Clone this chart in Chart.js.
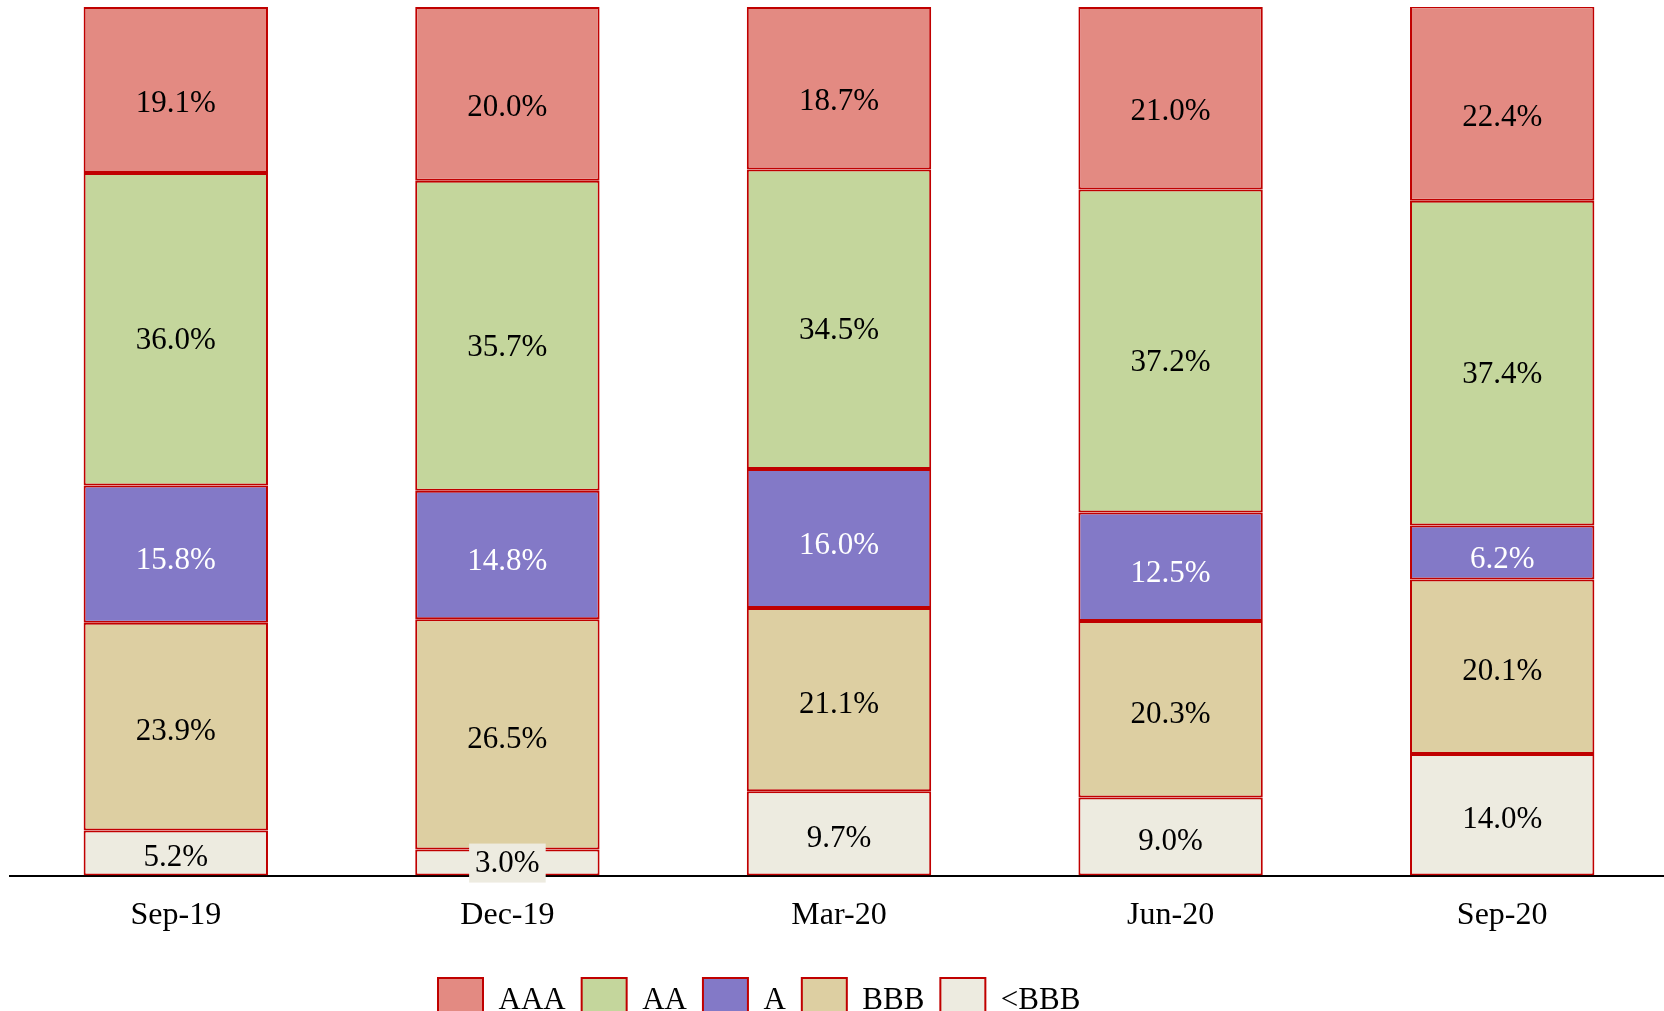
<!DOCTYPE html>
<html><head><meta charset="utf-8">
<script src="https://cdn.jsdelivr.net/npm/chart.js@4.4.0/dist/chart.umd.min.js"></script>
<style>html,body{margin:0;padding:0;background:#fff;overflow:hidden}
#wrap{position:relative;width:1668px;height:1011px}</style>
</head><body><div id="wrap"><canvas id="c"></canvas></div>
<script>
// ---- data ----
const categories = ['Sep-19', 'Dec-19', 'Mar-20', 'Jun-20', 'Sep-20'];
const aaaValues = [19.1, 20.0, 18.7, 21.0, 22.4];
const aaValues = [36.0, 35.7, 34.5, 37.2, 37.4];
const aValues = [15.8, 14.8, 16.0, 12.5, 6.2];
const bbbValues = [23.9, 26.5, 21.1, 20.3, 20.1];
const belowBbbValues = [5.2, 3.0, 9.7, 9.0, 14.0];
const seriesNames = ['<BBB', 'BBB', 'A', 'AA', 'AAA'];

// ---- styles ----
const FONT = '"Liberation Serif", "Times New Roman", serif';
const fillColors = ['#EDEBE0', '#DDCFA2', '#8379C7', '#C4D69C', '#E38A82'];
const labelColors = ['#000', '#000', '#fff', '#000', '#000'];
const labelShift = [4, 4.5, 6, 11, 13];
const BORDER = '#C00000';

const seriesValues = [belowBbbValues, bbbValues, aValues, aaValues, aaaValues];

const labelPlugin = {
  id: 'segLabels',
  afterDraw(chart) {
    const ctx = chart.ctx;
    ctx.save();
    ctx.font = '31px ' + FONT;
    ctx.textAlign = 'center';
    ctx.textBaseline = 'middle';
    chart.data.datasets.forEach((ds, di) => {
      const meta = chart.getDatasetMeta(di);
      meta.data.forEach((bar, i) => {
        const txt = ds.data[i].toFixed(1) + '%';
        const top = Math.min(bar.y, bar.base), bottom = Math.max(bar.y, bar.base);
        const h = bottom - top;
        const cx = bar.x;
        let cy = (top + bottom) / 2 + labelShift[di];
        if (h < 34) {
          const w = ctx.measureText(txt).width + 12;
          cy = (top + bottom) / 2;
          ctx.fillStyle = fillColors[di];
          ctx.fillRect(cx - w / 2, cy - 19, w, 39);
        }
        ctx.fillStyle = labelColors[di];
        ctx.fillText(txt, cx, cy + 1);
      });
    });
    ctx.restore();
  }
};

const legendPlace = {
  id: 'legendPlace',
  afterLayout(chart) {
    const lg = chart.legend;
    const pad = lg.options.labels.padding;
    const w = lg.right - lg.left;
    lg.left = 438 - pad;
    lg.right = lg.left + w;
    const hgt = lg.bottom - lg.top;
    lg.top = 978 - pad;
    lg.bottom = lg.top + hgt;
  }
};

new Chart(document.getElementById('c'), {
  type: 'bar',
  data: {
    labels: categories,
    datasets: seriesNames.map((name, k) => ({
      label: name,
      data: seriesValues[k],
      backgroundColor: fillColors[k],
      borderColor: BORDER,
      borderWidth: 2,
      borderSkipped: false,
      categoryPercentage: 1,
      barPercentage: 0.556
    }))
  },
  options: {
    responsive: true,
    maintainAspectRatio: false,
    animation: false,
    events: [],
    layout: { padding: { left: 10, right: 0, top: 7, bottom: -16 } },
    plugins: {
      tooltip: { enabled: false },
      legend: {
        position: 'bottom',
        align: 'start',
        reverse: true,
        labels: {
          boxWidth: 45,
          boxHeight: 45,
          padding: 16,
          color: '#000',
          font: { family: FONT, size: 31 }
        }
      }
    },
    scales: {
      x: {
        stacked: true,
        z: 1,
        grid: { display: false, drawTicks: false },
        border: { display: true, color: '#000', width: 2 },
        ticks: { color: '#000', font: { family: FONT, size: 32 }, padding: 21, maxRotation: 0 }
      },
      y: {
        stacked: true,
        display: false,
        min: 0,
        max: 100
      }
    }
  },
  plugins: [labelPlugin, legendPlace]
});
</script>
</body></html>
